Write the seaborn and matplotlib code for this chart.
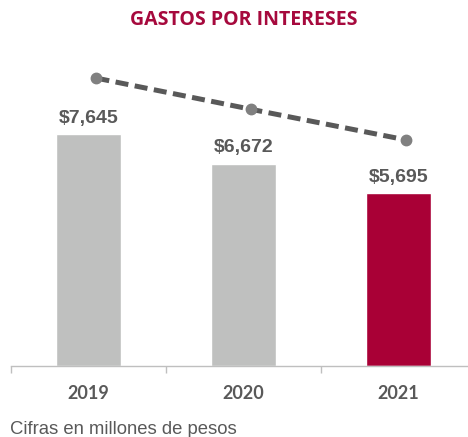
import numpy as np
import matplotlib
matplotlib.use("Agg")
import matplotlib.pyplot as plt
from matplotlib.transforms import ScaledTranslation
import seaborn as sns

# Datos
anios = ["2019", "2020", "2021"]
gastos = [7645, 6672, 5695]
tendencia = [9500, 8470, 7460]
etiquetas = ["$7,645", "$6,672", "$5,695"]

GRIS = "#BFC0BF"
ROJO = "#A90036"
TEXTO = "#595959"

sns.set_theme(style="white")
plt.rcParams["font.family"] = ["Liberation Sans", "DejaVu Sans"]

fig = plt.figure(figsize=(4.68, 4.37), dpi=100)
ax = fig.add_axes([11 / 468, 71 / 437, 1 - 11 / 468, 303 / 437])

sns.barplot(x=anios, y=gastos, hue=anios, palette=[GRIS, GRIS, ROJO],
            width=0.42, legend=False, saturation=1, ax=ax)

# Línea de tendencia punteada
pos = np.arange(len(anios))
desplaza = ax.transData + ScaledTranslation(0.08, 0, fig.dpi_scale_trans)
ax.plot(pos, tendencia, linestyle=(0, (2.6, 1.3)), color=TEXTO, lw=3.6,
        marker="o", markersize=7.5, markerfacecolor="#808080",
        markeredgecolor="#808080", transform=desplaza, zorder=3)

# Etiquetas de valor
for p, v, t in zip(pos, gastos, etiquetas):
    ax.annotate(t, (p, v), xytext=(0, 5.5), textcoords="offset points",
                ha="center", va="bottom", fontsize=14, fontweight="bold",
                color=TEXTO, family=["Liberation Sans", "DejaVu Sans"])

ax.set_xlim(-0.5, 2.45)
ax.set_ylim(0, 10000)
ax.set_yticks([])
ax.set_xlabel("")
ax.set_ylabel("")
ax.set_xticks(pos)
ax.set_xticklabels(anios, fontsize=13, fontweight="bold", color=TEXTO,
                   family=["Lato", "DejaVu Sans"])
ax.set_xticks([-0.5, 0.5, 1.5], minor=True)
ax.tick_params(axis="x", which="major", length=0, pad=14)
ax.tick_params(axis="x", which="minor", length=5, width=1, color="#BFBFBF",
               direction="out", bottom=True)

for s in ["top", "left", "right"]:
    ax.spines[s].set_visible(False)
ax.spines["bottom"].set_color("#BFBFBF")
ax.spines["bottom"].set_linewidth(1)

fig.text(244 / 468, 1 - 20 / 437, "GASTOS POR INTERESES", ha="center",
         va="center", fontsize=14, fontweight="bold", color="#A6093D",
         family=["Open Sans", "DejaVu Sans"])
fig.text(10 / 468, 1 - 429 / 437, "Cifras en millones de pesos", ha="left",
         va="center", fontsize=13.3, color=TEXTO,
         family=["Liberation Sans", "DejaVu Sans"])

fig.savefig("out.png", dpi=100)
